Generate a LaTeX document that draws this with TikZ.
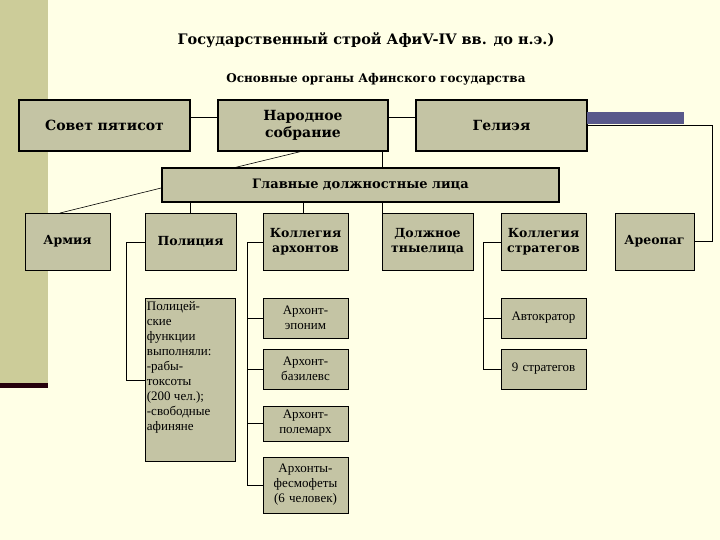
\documentclass[tikz,border=0pt]{standalone}
\usepackage{fontspec}
\setmainfont{Liberation Serif}
\newfontfamily\dvs{DejaVu Serif}
\begin{document}
\begin{tikzpicture}[x=1pt,y=-1pt,
  bx/.style={draw=black,fill=boxc,inner sep=1pt,align=center,font=\dvs\fontsize{12.5}{15}\selectfont\bfseries},
  big/.style={bx,line width=1.6pt,font=\dvs\fontsize{14}{17}\selectfont\bfseries},
  sm/.style={bx,line width=0.8pt,font=\fontsize{13}{15}\selectfont},
  ln/.style={line width=0.6pt}]
\definecolor{bg}{HTML}{FFFFE6}
\definecolor{boxc}{HTML}{C4C4A4}
\definecolor{strip}{HTML}{CCCC99}
\fill[bg] (0,0) rectangle (720,540);
\useasboundingbox (0,0) rectangle (720,540);
\fill[strip] (0,0) rectangle (48,383);
\fill[black!80!purple] (0,383) rectangle (48,388);
\node[font=\dvs\fontsize{14.5}{17}\selectfont\bfseries] (title) at (366,40) {Государственный строй АфиV-IV вв. до н.э.)};
\node[font=\dvs\fontsize{12}{15}\selectfont\bfseries] (sub) at (376,79) {Основные органы Афинского государства};
\newcommand\bx[7]{\node[#6,minimum width={#4-#2},minimum height={#5-#3},text width={#4-#2-2}] (#1) at ({(#2+#4)/2},{(#3+#5)/2}) {#7};}
\bx{sovet}{19}{100}{190}{151}{big}{Совет пятисот}
\bx{nar}{218}{100}{388}{151}{big}{Народное\\собрание}
\bx{gel}{416}{100}{587}{151}{big}{Гелиэя}
\fill[black!35!blue!30!gray] (587,112) rectangle (684,124);
\bx{glav}{162}{168}{559}{202}{bx,line width=1.6pt,font=\dvs\fontsize{13}{16}\selectfont\bfseries}{Главные должностные лица}
\bx{arm}{25}{213}{110}{270}{bx,line width=0.8pt}{Армия}
\bx{pol}{145}{213}{236}{270}{bx,line width=0.8pt}{Полиция}
\bx{kar}{263}{213}{348}{270}{bx,line width=0.8pt}{Коллегия\\архонтов}
\bx{dol}{382}{213}{473}{270}{bx,line width=0.8pt}{Должное\\тныелица}
\bx{kst}{501}{213}{586}{270}{bx,line width=0.8pt}{Коллегия\\стратегов}
\bx{are}{615}{213}{694}{270}{bx,line width=0.8pt}{Ареопаг}
\node[sm,anchor=north west,inner sep=1.5pt,align=left] (pf) at (145,298) {\parbox[t][160pt][t]{87pt}{\raggedright\strut Полицей-\\ские\\функции\\выполняли:\\-рабы-\\токсоты\\(200 чел.);\\-свободные\\афиняне}};
\bx{ep}{263}{298}{348}{338}{sm}{Архонт-\\эпоним}
\bx{baz}{263}{349}{348}{389}{sm}{Архонт-\\базилевс}
\bx{pm}{263}{406}{348}{441}{sm}{Архонт-\\полемарх}
\bx{fes}{263}{457}{348}{513}{sm}{Архонты-\\фесмофеты\\(6 человек)}
\bx{avt}{501}{298}{586}{338}{sm}{Автократор}
\bx{str}{501}{349}{586}{389}{sm}{9 стратегов}
% connectors
\draw[ln] (sovet.east |- 0,117) -- (nar.west |- 0,117);
\draw[ln] (nar.east |- 0,117) -- (gel.west |- 0,117);
\draw[ln] (gel.east |- 0,125) -- (712,125) |- (are.east);
\draw[ln] (303,151) -- (233,168);
\draw[ln] (382,151) -- (382,168);
\draw[ln] (glav.west |- 0,188) -- (60,213);
\draw[ln] (190,202) -- (190,213);
\draw[ln] (303,202) -- (303,213);
\draw[ln] (382,202) -- (382,213);
\draw[ln] (pol.west |- 0,242) -- (126,242) |- (pf.west |- 0,380);
\draw[ln] (kar.west |- 0,242) -- (247,242) |- (fes.west);
\draw[ln] (247,0 |- ep.west) -- (ep.west);
\draw[ln] (247,0 |- baz.west) -- (baz.west);
\draw[ln] (247,0 |- pm.west) -- (pm.west);
\draw[ln] (kst.west |- 0,242) -- (483,242) |- (str.west);
\draw[ln] (483,0 |- avt.west) -- (avt.west);
\end{tikzpicture}
\end{document}
